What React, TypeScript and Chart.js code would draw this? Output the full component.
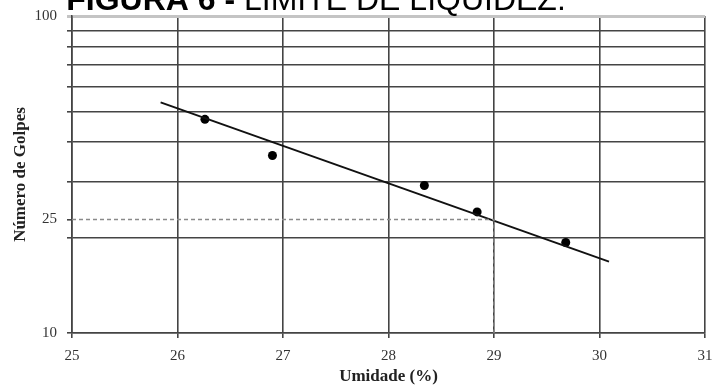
import React, { useEffect, useRef } from 'react';
import { Chart, registerables } from 'chart.js';
Chart.register(...registerables);

// Data
const umidade = [26.26, 26.9, 28.34, 28.84, 29.68];
const golpes = [47.2, 36.3, 29.2, 24.1, 19.3];
const fitX = [25.84, 30.09];
const fitY = [53.4, 16.8];
const guideX = [25, 29, 29];
const guideY = [22.8, 22.8, 10];
const xTickValues = [25, 26, 27, 28, 29, 30, 31];
const yGridValues = [10, 20, 30, 40, 50, 60, 70, 80, 90, 100];
const yLabelValues = [10, 22.8, 100];
const yLabelTexts = ['10', '25', '100'];
const titleBold = 'FIGURA 6 - ';
const titleRegular = 'LIMITE DE LIQUIDEZ.';

const titlePlugin = {
  id: 'cutTitle',
  afterDraw(chart: any) {
    const ctx = chart.ctx;
    ctx.save();
    ctx.fillStyle = '#000';
    ctx.textBaseline = 'alphabetic';
    ctx.textAlign = 'left';
    const fb = 'bold 32px "Liberation Sans", Arial, sans-serif';
    const fr = '32px "Liberation Sans", Arial, sans-serif';
    ctx.font = fb;
    const wb = ctx.measureText(titleBold).width;
    ctx.font = fr;
    const wr = ctx.measureText(titleRegular).width;
    const start = 316 - (wb + wr) / 2;
    ctx.font = fb;
    ctx.fillText(titleBold, start, 10);
    ctx.font = fr;
    ctx.fillText(titleRegular, start + wb, 10);
    ctx.restore();
  },
};

export default function App() {
  const ref = useRef<HTMLCanvasElement | null>(null);
  useEffect(() => {
    document.body.style.margin = '0';
    if (!ref.current) return;
    const serif = '"Liberation Serif", "Times New Roman", serif';
    const chart = new Chart(ref.current, {
      type: 'scatter',
      data: {
        datasets: [
          {
            label: 'guia',
            data: guideX.map((x, i) => ({ x, y: guideY[i] })),
            showLine: true,
            borderColor: '#8a8a8a',
            borderWidth: 1.5,
            borderDash: [4, 3],
            pointRadius: 0,
          },
          {
            label: 'ajuste',
            data: fitX.map((x, i) => ({ x, y: fitY[i] })),
            showLine: true,
            borderColor: '#111',
            borderWidth: 2,
            pointRadius: 0,
          },
          {
            label: 'ensaios',
            data: umidade.map((x, i) => ({ x, y: golpes[i] })),
            showLine: false,
            pointRadius: 4.5,
            pointBackgroundColor: '#000',
            pointBorderColor: '#000',
            pointBorderWidth: 0,
          },
        ],
      },
      options: {
        animation: false,
        responsive: false,
        devicePixelRatio: 1,
        layout: { padding: { top: 16, right: 0, left: 0, bottom: 0 } },
        plugins: { legend: { display: false }, tooltip: { enabled: false }, title: { display: false } },
        scales: {
          x: {
            type: 'linear',
            min: 25,
            max: 31,
            afterBuildTicks: (s: any) => {
              s.ticks = xTickValues.map((v) => ({ value: v }));
            },
            afterFit: (s: any) => {
              s.height = 54;
              s.paddingRight = 7;
              s.paddingLeft = 0;
            },
            ticks: {
              color: '#333',
              font: { family: serif, size: 15 },
              padding: 9,
              maxRotation: 0,
              callback: (v: any) => String(v),
            },
            grid: {
              color: '#444',
              lineWidth: 1.6,
              tickLength: 5,
              tickColor: '#444',
            },
            border: { display: true, color: '#444', width: 1.6 },
            title: {
              display: true,
              text: 'Umidade (%)',
              color: '#222',
              font: { family: serif, size: 17, weight: 'bold' },
              padding: { top: 0, bottom: 0 },
            },
          },
          y: {
            type: 'logarithmic',
            min: 10,
            max: 100,
            afterBuildTicks: (s: any) => {
              const vals = [...yGridValues, yLabelValues[1]].sort((a, b) => a - b);
              s.ticks = vals.map((v) => ({ value: v }));
            },
            afterFit: (s: any) => {
              s.width = 72;
              s.paddingTop = 0;
              s.paddingBottom = 0;
            },
            ticks: {
              color: '#333',
              font: { family: serif, size: 15 },
              padding: 10,
              autoSkip: false,
              callback: (v: any) => {
                const i = yLabelValues.indexOf(Number(v));
                return i >= 0 ? yLabelTexts[i] : '';
              },
            },
            grid: {
              color: (c: any) => {
                const v = c.tick ? c.tick.value : null;
                if (v === yLabelValues[1]) return 'rgba(0,0,0,0)';
                if (v === 100) return '#c4c4c4';
                return '#444';
              },
              lineWidth: (c: any) => (c.tick && c.tick.value === 100 ? 3 : 1.6),
              tickLength: 5,
              tickColor: (c: any) => (c.tick && c.tick.value === 100 ? '#c4c4c4' : '#444'),
            },
            border: { display: true, color: '#444', width: 1.6 },
            title: {
              display: true,
              text: 'Número de Golpes',
              color: '#222',
              font: { family: serif, size: 17, weight: 'bold' },
              padding: { top: 10, bottom: 0 },
            },
          },
        },
      },
      plugins: [titlePlugin],
    } as any);
    return () => chart.destroy();
  }, []);
  return (
    <div style={{ width: 712, height: 387, background: '#fff' }}>
      <canvas ref={ref} width={712} height={387} style={{ display: 'block' }} />
    </div>
  );
}
